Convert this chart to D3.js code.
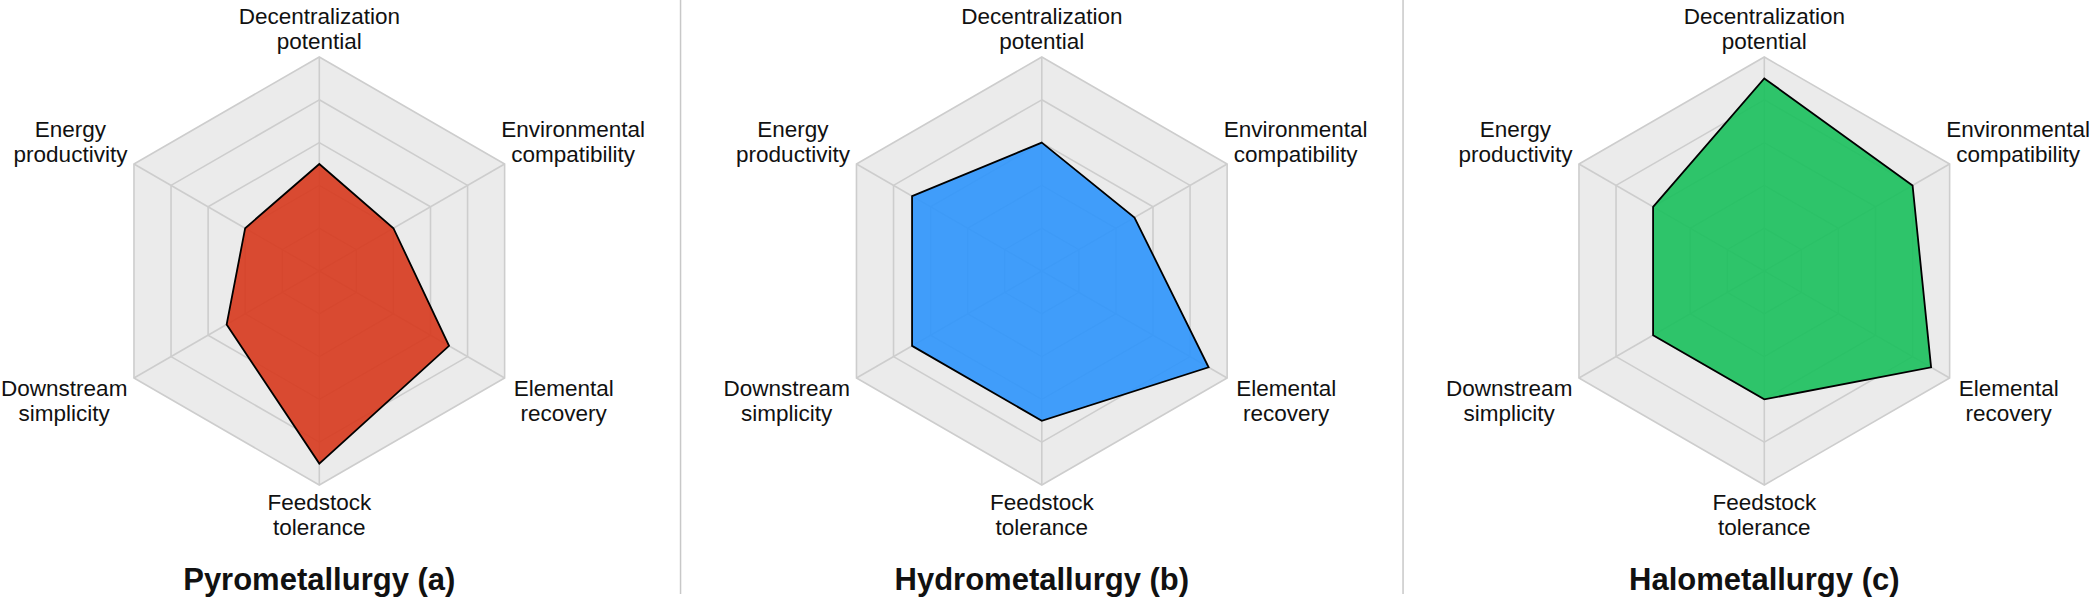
<!DOCTYPE html>
<html>
<head>
<meta charset="utf-8">
<script src="https://cdn.jsdelivr.net/npm/d3@7"></script>
<style>
    html, body { margin: 0; padding: 0; background: #ffffff; }
    svg { display: block; }
    text { font-family: "Liberation Sans", Arial, sans-serif; fill: #111111; }
</style>
</head>
<body>
<script>
// 六个评价维度（顺时针，从正上方开始）
const axisLabels = [
    ['Decentralization', 'potential'],
    ['Environmental', 'compatibility'],
    ['Elemental', 'recovery'],
    ['Feedstock', 'tolerance'],
    ['Downstream', 'simplicity'],
    ['Energy', 'productivity']
];
// 三种工艺
const methods = ['Pyrometallurgy (a)', 'Hydrometallurgy (b)', 'Halometallurgy (c)'];
// 各工艺得分（0-10）
const pyroValues = [5, 4, 7, 9, 5, 4];
const hydroValues = [6, 5, 9, 7, 7, 7];
const haloValues = [9, 8, 9, 6, 6, 6];
// 网格刻度
const ringTicks = [2, 4, 6, 8, 10];

const seriesValues = [pyroValues, hydroValues, haloValues];
const fillColors = ['#d7391d', '#2d95fc', '#19c05c'];

/**
 * 初始化 SVG 画布
 */
const initSVG = (renderParams) => {
    let {svgWidth, svgHeight} = renderParams;
    return d3.select('body')
        .append('svg')
        .attr('width', svgWidth)
        .attr('height', svgHeight);
};

/**
 * 绘制三个雷达图
 */
const renderRadars = (svg, renderParams) => {
    let {radius, centerY, firstX, lastX, svgHeight} = renderParams;

    let xPanel = d3.scalePoint().domain(methods).range([firstX, lastX]);
    let rScale = d3.scaleLinear().domain([0, 10]).range([0, radius]);
    let angle = d3.scaleLinear().domain([0, axisLabels.length]).range([0, 2 * Math.PI]);
    let idx = d3.range(axisLabels.length);

    let radial = d3.lineRadial()
        .angle(d => angle(d[0]))
        .radius(d => rScale(d[1]))
        .curve(d3.curveLinearClosed);

    // 分隔线
    let centers = methods.map(m => xPanel(m));
    svg.append('g')
        .selectAll('line')
        .data(d3.pairs(centers))
        .enter()
        .append('line')
        .attr('x1', d => (d[0] + d[1]) / 2)
        .attr('x2', d => (d[0] + d[1]) / 2)
        .attr('y1', 0)
        .attr('y2', svgHeight - 6)
        .attr('stroke', '#c8c8c8')
        .attr('stroke-width', 1.5);

    methods.forEach((m, k) => {
        let g = svg.append('g')
            .attr('transform', `translate(${xPanel(m)},${centerY})`);

        // 背景
        g.append('path')
            .attr('d', radial(idx.map(i => [i, 10])))
            .attr('fill', '#ebebeb');

        // 同心环
        g.append('g')
            .selectAll('path')
            .data(ringTicks)
            .enter()
            .append('path')
            .attr('d', t => radial(idx.map(i => [i, t])))
            .attr('fill', 'none')
            .attr('stroke', '#cdcdcd')
            .attr('stroke-width', 1.6);

        // 轴线
        g.append('g')
            .selectAll('line')
            .data(idx)
            .enter()
            .append('line')
            .attr('x1', 0)
            .attr('y1', 0)
            .attr('x2', i => Math.sin(angle(i)) * rScale(10))
            .attr('y2', i => -Math.cos(angle(i)) * rScale(10))
            .attr('stroke', '#cdcdcd')
            .attr('stroke-width', 1.6);

        // 数据多边形
        g.append('path')
            .attr('d', radial(seriesValues[k].map((v, i) => [i, v])))
            .attr('fill', fillColors[k])
            .attr('fill-opacity', 0.9)
            .attr('stroke', '#000000')
            .attr('stroke-width', 1.8)
            .attr('stroke-linejoin', 'miter');

        // 维度标签
        let lineH = 25;
        axisLabels.forEach((lines, i) => {
            let s = Math.sin(angle(i)), c = Math.cos(angle(i));
            let vx = s * rScale(10), vy = -c * rScale(10);
            let side = Math.abs(s) < 0.1 ? 0 : (s > 0 ? 1 : -1);
            let firstBase;
            if (side === 0) {
                firstBase = c > 0 ? vy - 8.5 - lineH * (lines.length - 1) : vy + 25;
            } else {
                firstBase = c > 0 ? vy - 2 - lineH * (lines.length - 1) : vy + 18;
            }
            let lab = g.append('g');
            let texts = lab.selectAll('text')
                .data(lines)
                .enter()
                .append('text')
                .attr('text-anchor', 'middle')
                .attr('y', (d, j) => firstBase + j * lineH)
                .style('font-size', '22.5px')
                .text(d => d);
            // 多行文字居中，整体左/右对齐
            let w = d3.max(texts.nodes(), n => n.getComputedTextLength());
            let gap = side < 0 ? 6.6 : (c > 0 ? -3.5 : 9);
            let cx = side === 0 ? vx : vx + side * (gap + w / 2);
            texts.attr('x', cx);
        });

        // 标题
        g.append('text')
            .attr('x', 0)
            .attr('y', 590 - centerY)
            .attr('text-anchor', 'middle')
            .style('font-size', '31px')
            .style('font-weight', 'bold')
            .text(m);
    });
};

let renderParams = {
    svgWidth: 2092,
    svgHeight: 600,
    radius: 214,
    centerY: 271,
    firstX: 319.3,
    lastX: 1764.3
};
let svg = initSVG(renderParams);
renderRadars(svg, renderParams);
</script>
</body>
</html>
